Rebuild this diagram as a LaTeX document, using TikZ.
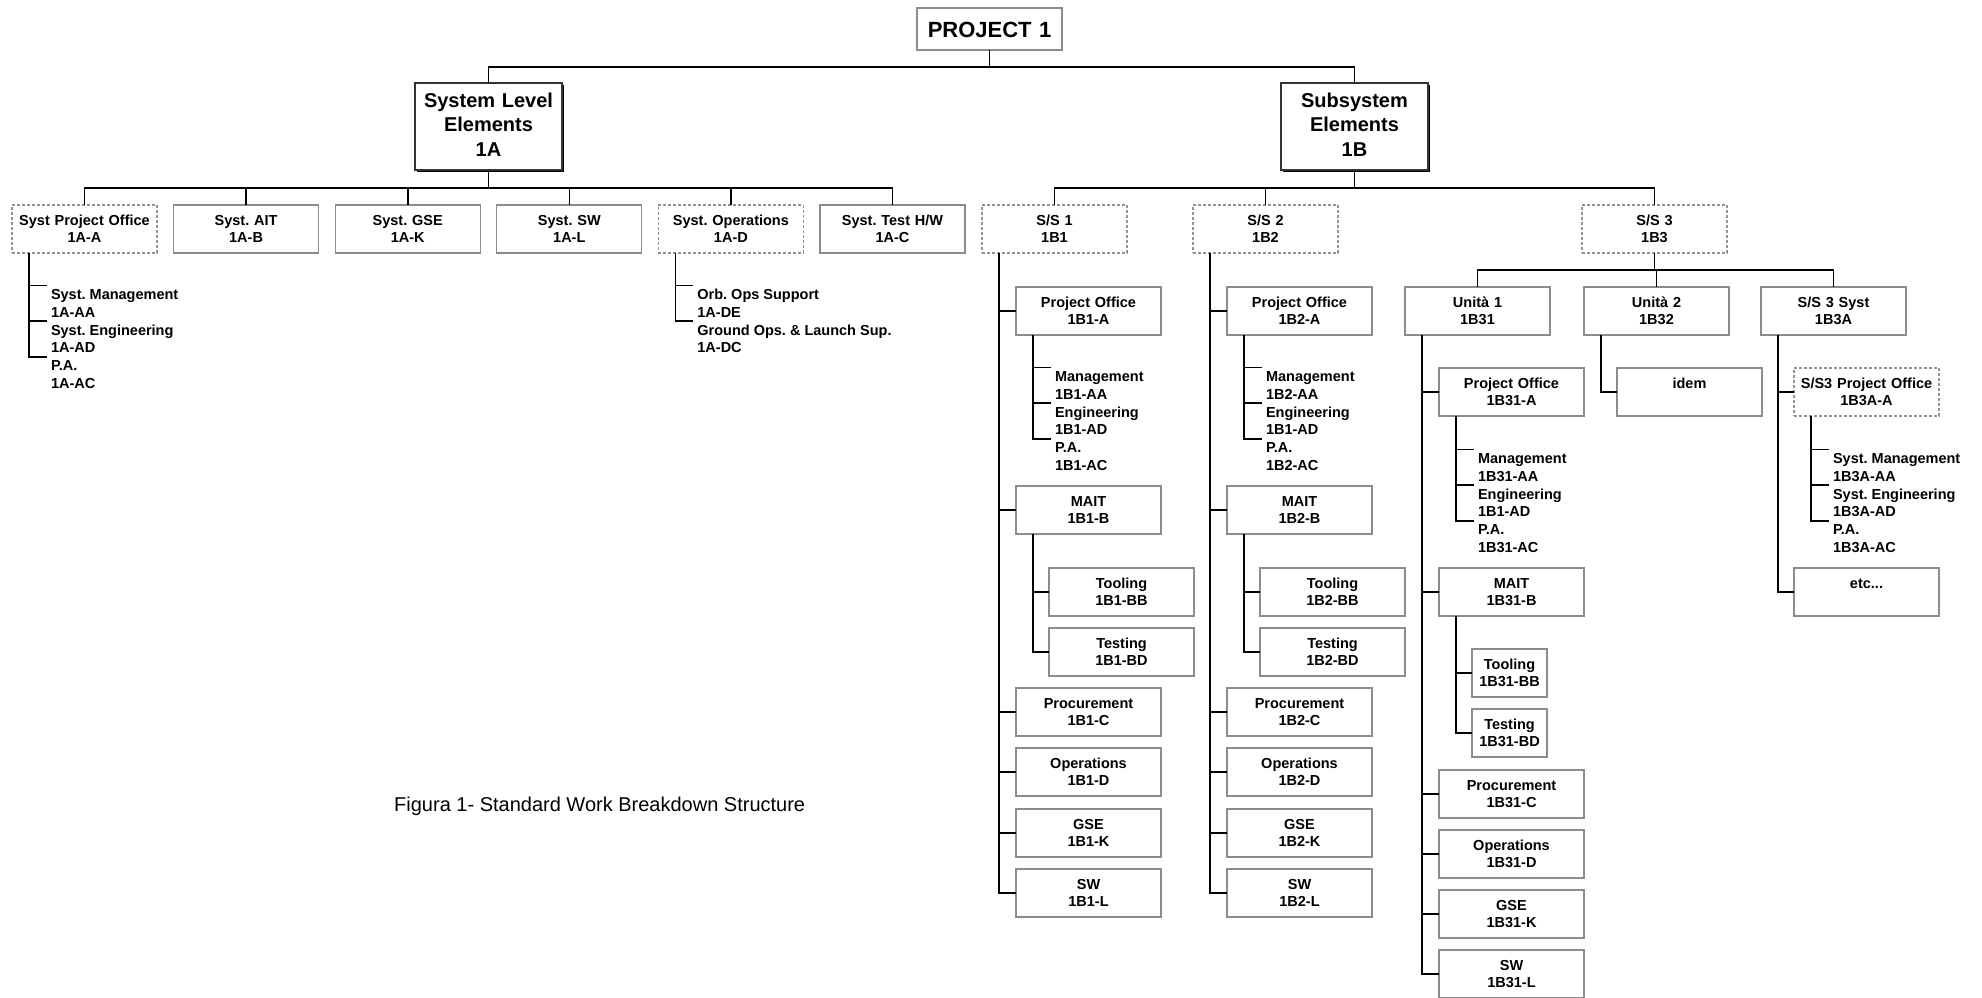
\documentclass[tikz,border=0pt]{standalone}
\usepackage{fontspec}
\setmainfont{Liberation Sans}
\usetikzlibrary{shadows}
\definecolor{boxgray}{HTML}{8C8C8C}
\newcommand\twol[2]{\rule{0pt}{20pt}#1\\#2\rule[-10pt]{0pt}{10pt}}
\newcommand\threel[3]{\rule{0pt}{24pt}#1\\#2\\#3\rule[-14pt]{0pt}{14pt}}
\newcommand\fstl{\rule{0pt}{14pt}}
\frenchspacing
\tikzset{
  wbox/.style={draw=boxgray, line width=1.3pt, inner sep=0pt, outer sep=0pt, text width=145pt, align=center, minimum height=48pt, anchor=north west, font=\bfseries\fontsize{14.5}{17.8}\selectfont},
  dbox/.style={wbox, draw=gray!85, line width=1.1pt, dash pattern=on 3pt off 2pt},
  sbox/.style={wbox, text width=75pt},
  item/.style={inner sep=0pt, outer sep=0pt, anchor=north west, align=left, font=\bfseries\fontsize{14.5}{17.8}\selectfont},
  lvl/.style={draw=black!80, line width=2pt, fill=white, drop shadow={shadow xshift=2pt, shadow yshift=-2pt, fill=black, opacity=1}, inner sep=0pt, outer sep=0pt, text width=147pt, align=center, anchor=north west, font=\bfseries\fontsize{20}{24.5}\selectfont},
  rootbox/.style={draw=boxgray, line width=1.3pt, inner sep=0pt, outer sep=0pt, text width=145pt, align=center, anchor=north west, font=\bfseries\fontsize{22}{26}\selectfont},
  conn/.style={draw=black, line width=1.6pt},
}
\begin{document}
\frenchspacing
\begin{tikzpicture}[x=1pt,y=-1pt]
\useasboundingbox (0,0) rectangle (1982,997);
% root and level 1
\node[rootbox] (p) at (917,8) {\rule{0pt}{29pt}PROJECT 1\rule[-13pt]{0pt}{13pt}};
\node[lvl] (sl) at (415,83) {\threel{System Level}{Elements}{1A}};
\node[lvl] (ss) at (1281,83) {\threel{Subsystem}{Elements}{1B}};
% level 2
\node[dbox] (a) at (12,205) {\twol{Syst Project Office}{1A-A}};
\node[wbox] (b) at (173.6,205) {\twol{Syst. AIT}{1A-B}};
\node[wbox] (k) at (335.2,205) {\twol{Syst. GSE}{1A-K}};
\node[wbox] (l) at (496.8,205) {\twol{Syst. SW}{1A-L}};
\node[dbox] (d) at (658.4,205) {\twol{Syst. Operations}{1A-D}};
\node[wbox] (c) at (820,205) {\twol{Syst. Test H/W}{1A-C}};
\node[dbox] (s1) at (982,205) {\twol{S/S 1}{1B1}};
\node[dbox] (s2) at (1193,205) {\twol{S/S 2}{1B2}};
\node[dbox] (s3) at (1582,205) {\twol{S/S 3}{1B3}};
% system sub items
\node[item] (aa) at (51,285.5) {\fstl Syst. Management\\1A-AA};
\node[item] (ad) at (51,321.1) {\fstl Syst. Engineering\\1A-AD};
\node[item] (ac) at (51,356.7) {\fstl P.A.\\1A-AC};
\node[item] (de) at (697.4,285.5) {\fstl Orb. Ops Support\\1A-DE};
\node[item] (dc) at (697.4,321.1) {\fstl Ground Ops. \& Launch Sup.\\1A-DC};
% S/S 1
\node[wbox] (po1) at (1016,287) {\twol{Project Office}{1B1-A}};
\node[item] (m1) at (1055,367.5) {\fstl Management\\1B1-AA};
\node[item] (e1) at (1055,403.1) {\fstl Engineering\\1B1-AD};
\node[item] (q1) at (1055,438.7) {\fstl P.A.\\1B1-AC};
\node[wbox] (mt1) at (1016,486) {\twol{MAIT}{1B1-B}};
\node[wbox] (tl1) at (1049,568) {\twol{Tooling}{1B1-BB}};
\node[wbox] (ts1) at (1049,628) {\twol{Testing}{1B1-BD}};
\node[wbox] (pr1) at (1016,688) {\twol{Procurement}{1B1-C}};
\node[wbox] (op1) at (1016,748) {\twol{Operations}{1B1-D}};
\node[wbox] (gs1) at (1016,809) {\twol{GSE}{1B1-K}};
\node[wbox] (sw1) at (1016,869) {\twol{SW}{1B1-L}};
% S/S 2
\node[wbox] (po2) at (1227,287) {\twol{Project Office}{1B2-A}};
\node[item] (m2) at (1266,367.5) {\fstl Management\\1B2-AA};
\node[item] (e2) at (1266,403.1) {\fstl Engineering\\1B1-AD};
\node[item] (q2) at (1266,438.7) {\fstl P.A.\\1B2-AC};
\node[wbox] (mt2) at (1227,486) {\twol{MAIT}{1B2-B}};
\node[wbox] (tl2) at (1260,568) {\twol{Tooling}{1B2-BB}};
\node[wbox] (ts2) at (1260,628) {\twol{Testing}{1B2-BD}};
\node[wbox] (pr2) at (1227,688) {\twol{Procurement}{1B2-C}};
\node[wbox] (op2) at (1227,748) {\twol{Operations}{1B2-D}};
\node[wbox] (gs2) at (1227,809) {\twol{GSE}{1B2-K}};
\node[wbox] (sw2) at (1227,869) {\twol{SW}{1B2-L}};
% S/S 3
\node[wbox] (u1) at (1405,287) {\twol{Unità 1}{1B31}};
\node[wbox] (u2) at (1584,287) {\twol{Unità 2}{1B32}};
\node[wbox] (u3) at (1761,287) {\twol{S/S 3 Syst}{1B3A}};
\node[wbox] (po31) at (1439,368) {\twol{Project Office}{1B31-A}};
\node[item] (m31) at (1478,449.5) {\fstl Management\\1B31-AA};
\node[item] (e31) at (1478,485.1) {\fstl Engineering\\1B1-AD};
\node[item] (q31) at (1478,520.7) {\fstl P.A.\\1B31-AC};
\node[wbox] (mt31) at (1439,568) {\twol{MAIT}{1B31-B}};
\node[sbox] (tl31) at (1472,649) {\twol{Tooling}{1B31-BB}};
\node[sbox] (ts31) at (1472,709) {\twol{Testing}{1B31-BD}};
\node[wbox] (pr31) at (1439,770) {\twol{Procurement}{1B31-C}};
\node[wbox] (op31) at (1439,830) {\twol{Operations}{1B31-D}};
\node[wbox] (gs31) at (1439,890) {\twol{GSE}{1B31-K}};
\node[wbox] (sw31) at (1439,950) {\twol{SW}{1B31-L}};
\node[wbox] (idem) at (1617,368) {\twol{idem}{}};
\node[dbox] (po3a) at (1794,368) {\twol{S/S3 Project Office}{1B3A-A}};
\node[item] (m3a) at (1833,449.5) {\fstl Syst. Management\\1B3A-AA};
\node[item] (e3a) at (1833,485.1) {\fstl Syst. Engineering\\1B3A-AD};
\node[item] (q3a) at (1833,520.7) {\fstl P.A.\\1B3A-AC};
\node[wbox] (etc) at (1794,568) {\twol{etc...}{}};
% caption
\node[anchor=base west, inner sep=0pt, font=\fontsize{20}{24}\selectfont] (cap) at (394,811) {Figura 1- Standard Work Breakdown Structure};
% connectors: tree levels
\draw[conn] (p.south) -- ++(0,17) coordinate (pj) -| (sl.north);
\draw[conn] (pj) -| (ss.north);
\draw[conn] (sl.south) -- ++(0,18) coordinate (slj);
\foreach \t in {a,b,k,l,d,c} \draw[conn] (slj) -| (\t.north);
\draw[conn] (ss.south) -- ++(0,18) coordinate (ssj);
\foreach \t in {s1,s2,s3} \draw[conn] (ssj) -| (\t.north);
\draw[conn] (s3.south) -- ++(0,17) coordinate (s3j);
\foreach \t in {u1,u2,u3} \draw[conn] (s3j) -| (\t.north);
% side connectors
\foreach \t in {aa,ad,ac} \draw[conn] ([xshift=17pt]a.south west) |- ([xshift=-4pt]\t.north west);
\foreach \t in {de,dc} \draw[conn] ([xshift=17pt]d.south west) |- ([xshift=-4pt]\t.north west);
\foreach \t in {po1,mt1,pr1,op1,gs1,sw1} \draw[conn] ([xshift=17pt]s1.south west) |- (\t.west);
\foreach \t in {m1,e1,q1} \draw[conn] ([xshift=17pt]po1.south west) |- ([xshift=-4pt]\t.north west);
\foreach \t in {tl1,ts1} \draw[conn] ([xshift=17pt]mt1.south west) |- (\t.west);
\foreach \t in {po2,mt2,pr2,op2,gs2,sw2} \draw[conn] ([xshift=17pt]s2.south west) |- (\t.west);
\foreach \t in {m2,e2,q2} \draw[conn] ([xshift=17pt]po2.south west) |- ([xshift=-4pt]\t.north west);
\foreach \t in {tl2,ts2} \draw[conn] ([xshift=17pt]mt2.south west) |- (\t.west);
\foreach \t in {po31,mt31,pr31,op31,gs31,sw31} \draw[conn] ([xshift=17pt]u1.south west) |- (\t.west);
\foreach \t in {m31,e31,q31} \draw[conn] ([xshift=17pt]po31.south west) |- ([xshift=-4pt]\t.north west);
\foreach \t in {tl31,ts31} \draw[conn] ([xshift=17pt]mt31.south west) |- (\t.west);
\draw[conn] ([xshift=17pt]u2.south west) |- (idem.west);
\foreach \t in {po3a,etc} \draw[conn] ([xshift=17pt]u3.south west) |- (\t.west);
\foreach \t in {m3a,e3a,q3a} \draw[conn] ([xshift=17pt]po3a.south west) |- ([xshift=-4pt]\t.north west);
\end{tikzpicture}
\end{document}
